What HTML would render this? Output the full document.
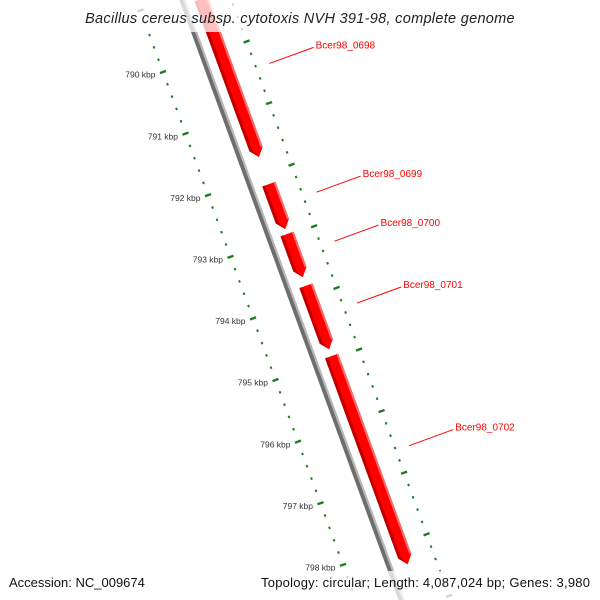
<!DOCTYPE html>
<html><head><meta charset="utf-8"><style>
html,body{margin:0;padding:0;background:#fff;}
svg{display:block;font-family:"Liberation Sans","DejaVu Sans",sans-serif;}
</style></head><body>
<svg id="map" width="600" height="600" viewBox="0 0 600 600" xmlns="http://www.w3.org/2000/svg">
<g id="ticks"></g>
<g id="backbone"></g>
<g id="genes"></g>
<g id="labels"></g>
<rect x="0" y="0" width="600" height="32" fill="#fff" fill-opacity="0.75"/>
<text x="300" y="23" text-anchor="middle" font-size="14.5" font-style="italic" fill="#222" letter-spacing="0.3">Bacillus cereus subsp. cytotoxis NVH 391-98, complete genome</text>
<rect x="0" y="571" width="600" height="29" fill="#fff" fill-opacity="0.75"/>
<text x="9" y="587" font-size="13" fill="#111">Accession: NC_009674</text>
<text x="261" y="587" font-size="13" fill="#111" textLength="329" lengthAdjust="spacing">Topology: circular; Length: 4,087,024 bp; Genes: 3,980</text>
</svg>
<script>
const geneNames = ["Bcer98_0698","Bcer98_0699","Bcer98_0700","Bcer98_0701","Bcer98_0702"];
const geneStarts = [789150, 792160, 792970, 793810, 794950];
const geneEnds = [791720, 792890, 793670, 794840, 798330];
const majorTicks = [790,791,792,793,794,795,796,797,798];
const tickLabels = ["790 kbp","791 kbp","792 kbp","793 kbp","794 kbp","795 kbp","796 kbp","797 kbp","798 kbp"];

const NS = "http://www.w3.org/2000/svg";
const O = [163,72], T = [22.5,61.6], N = [0.939,-0.343];
function P(bp, d){ const k=(bp-790000)/1000; return [O[0]+k*T[0]+d*N[0], O[1]+k*T[1]+d*N[1]]; }
function mk(tag, attrs, parent){ const e=document.createElementNS(NS,tag); for(const a in attrs) e.setAttribute(a,attrs[a]); parent.appendChild(e); return e; }
const tg=document.getElementById('ticks'), bg=document.getElementById('backbone'), gg=document.getElementById('genes'), lg=document.getElementById('labels');
const green="#1e7d1e";
[0,89].forEach(function(base){
  for(let bp=788800; bp<=799000; bp+=200){
    const major = bp%1000===0;
    const h = major?3.2:1.0;
    const a=P(bp,base-h), b=P(bp,base+h);
    const l=mk('line',{x1:a[0],y1:a[1],x2:b[0],y2:b[1],stroke:green,'stroke-width':major?2.4:2.4},tg);
    
    
  }
});
majorTicks.forEach(function(k,i){
  const p=P(k*1000,-8);
  const t=mk('text',{x:p[0],y:p[1]+3,'text-anchor':'end','font-size':'8.5',fill:'#333'},tg);
  t.textContent=tickLabels[i];
  
  
});
(function(){
  const a=P(788500,42), b=P(799200,42), c=P(788500,45), d=P(799200,45);
  const l1=mk('line',{x1:a[0],y1:a[1],x2:b[0],y2:b[1],stroke:'#6e6e6e','stroke-width':4},bg);
  
  
  const l2=mk('line',{x1:c[0],y1:c[1],x2:d[0],y2:d[1],stroke:'#b8b8b8','stroke-width':2},bg);
  
  
})();
const gd=61, hw=7, tipBp=130;
geneNames.forEach(function(name,i){
  const s=geneStarts[i], e=geneEnds[i];
  const pts=[P(s,gd-hw),P(s,gd+hw),P(e-tipBp,gd+hw),P(e,gd),P(e-tipBp,gd-hw)];
  const g=mk('polygon',{points:pts.map(p=>p.join(',')).join(' '),fill:'#ff0000'},gg);
  
  
  const s1=[P(s,gd-hw),P(e-tipBp,gd-hw),P(e,gd),P(e-tipBp,gd-hw+3),P(s,gd-hw+3)];
  const sh=mk('polygon',{points:s1.map(p=>p.join(',')).join(' '),fill:'#c00000'},gg);
  
  
  const s2=[P(s,gd+hw),P(e-tipBp,gd+hw),P(e-tipBp,gd+hw-2),P(s,gd+hw-2)];
  const hl=mk('polygon',{points:s2.map(p=>p.join(',')).join(' '),fill:'#ff6a6a'},gg);
  
  
  const mid=(s+e)/2;
  const a=P(mid,103), b=P(mid,150);
  const ln=mk('line',{x1:a[0],y1:a[1],x2:b[0],y2:b[1],stroke:'#ff0000','stroke-width':1},lg);
  
  
  const t=mk('text',{x:b[0]+2,y:b[1]+1,'font-size':'10',fill:'#ff0000'},lg);
  t.textContent=name;
  
  
});
</script>
</body></html>
